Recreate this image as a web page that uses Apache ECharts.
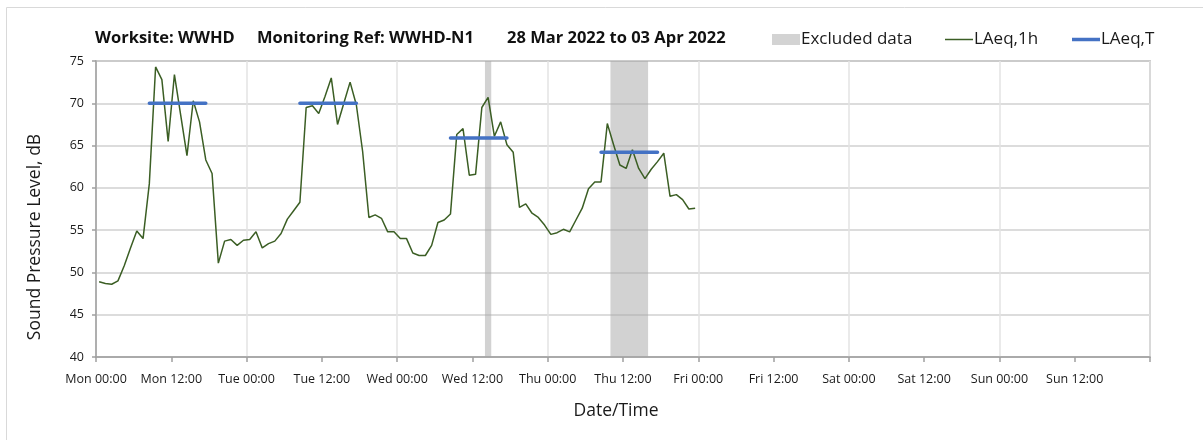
<!DOCTYPE html>
<html>
<head>
<meta charset="utf-8">
<title>WWHD-N1 noise monitoring</title>
<script src="https://cdn.jsdelivr.net/npm/echarts@6/dist/echarts.min.js"></script>
<style>
    html, body { margin: 0; padding: 0; background: #fff; }
    #chart0 { width: 1203px; height: 440px; }
</style>
</head>
<body>
<div id="chart0"></div>
<script>
// LAeq,1h - one value per hour, first hour is Mon 00:00-01:00 (plotted mid-hour)
var firstHour = 0.5;
var laeq1h = [
    48.9, 48.7, 48.6, 49.0, 50.8, 52.9, 54.9, 54.0, 60.5, 74.3, 72.8, 65.5,
    73.4, 68.6, 63.8, 70.3, 67.8, 63.3, 61.7, 51.1, 53.7, 53.9, 53.2, 53.8,
    53.9, 54.8, 52.9, 53.4, 53.7, 54.6, 56.3, 57.3, 58.3, 69.5, 69.7, 68.8,
    70.8, 73.0, 67.5, 70.0, 72.5, 69.8, 64.3, 56.5, 56.8, 56.4, 54.8, 54.8,
    54.0, 54.0, 52.3, 52.0, 52.0, 53.2, 55.9, 56.2, 56.9, 66.3, 67.0, 61.5,
    61.6, 69.5, 70.7, 66.1, 67.8, 65.1, 64.2, 57.7, 58.1, 57.0, 56.5, 55.6,
    54.5, 54.7, 55.1, 54.8, 56.2, 57.6, 59.9, 60.7, 60.7, 67.6, 65.1, 62.7,
    62.3, 64.5, 62.3, 61.1, 62.2, 63.1, 64.1, 59.0, 59.2, 58.6, 57.5, 57.6
];

// LAeq,T over each daytime period (hours from Mon 00:00)
var periodStart = [8.5, 32.5, 56.5, 80.5];
var periodEnd = [17.5, 41.5, 65.5, 89.5];
var laeqT = [70.0, 70.0, 65.9, 64.2];

// excluded data periods (hours from Mon 00:00)
var excludedFrom = [62, 82];
var excludedTo = [63, 88];

var tickLabels = [
    'Mon 00:00', 'Mon 12:00', 'Tue 00:00', 'Tue 12:00', 'Wed 00:00', 'Wed 12:00',
    'Thu 00:00', 'Thu 12:00', 'Fri 00:00', 'Fri 12:00', 'Sat 00:00', 'Sat 12:00',
    'Sun 00:00', 'Sun 12:00', ''
];

var font = 'Open Sans';
var textColor = '#1a1a1a';
var green = '#3b5e24';
var blue = '#4472c4';

var renderChart = function () {
    var chart0 = echarts.init(document.getElementById('chart0'));

    var hourly = laeq1h.map(function (v, i) {
        return [firstHour + i, v];
    });

    var tData = [];
    for (var i = 0; i < laeqT.length; i++) {
        tData.push([periodStart[i], laeqT[i]]);
        tData.push([periodEnd[i], laeqT[i]]);
        tData.push([periodEnd[i], '-']);
    }

    var bands = [];
    for (var j = 0; j < excludedFrom.length; j++) {
        bands.push([{ xAxis: excludedFrom[j] }, { xAxis: excludedTo[j] }]);
    }

    var titleStyle = { fontFamily: font, fontSize: 16.5, fontWeight: 'bold', color: '#111' };
    var legendText = { fontFamily: font, fontSize: 17, color: textColor, padding: [0, 0, 0, -4] };
    var axisTitle = { fontFamily: font, fontSize: 17.5, fill: textColor };

    var option = {
        animation: false,
        textStyle: { fontFamily: font },
        graphic: [
            {
                type: 'rect',
                shape: { x: 6.5, y: 7.5, width: 1220, height: 460 },
                style: { fill: null, stroke: '#d9d9d9', lineWidth: 1 },
                silent: true
            },
            {
                type: 'text', x: 35, y: 237, rotation: Math.PI / 2,
                style: Object.assign({ text: 'Sound Pressure Level, dB', align: 'center', verticalAlign: 'middle' }, axisTitle),
                silent: true
            },
            {
                type: 'text', x: 616, y: 411,
                style: Object.assign({ text: 'Date/Time', align: 'center', verticalAlign: 'middle' }, axisTitle),
                silent: true
            }
        ],
        title: [
            { text: 'Worksite: WWHD', left: 95, top: 30, padding: 0, textStyle: titleStyle },
            { text: 'Monitoring Ref: WWHD-N1', left: 257, top: 30, padding: 0, textStyle: titleStyle },
            { text: '28 Mar 2022 to 03 Apr 2022', left: 507, top: 30, padding: 0, textStyle: titleStyle }
        ],
        legend: [
            {
                left: 772, top: 31, padding: 0, itemWidth: 28, itemHeight: 11,
                textStyle: legendText,
                data: [{ name: 'Excluded data', icon: 'rect', itemStyle: { color: '#d3d3d3', opacity: 1 } }]
            },
            {
                left: 945, top: 31, padding: 0, itemWidth: 28, itemHeight: 1.5,
                textStyle: legendText,
                data: [{ name: 'LAeq,1h', icon: 'rect', itemStyle: { color: green } }]
            },
            {
                left: 1072, top: 31, padding: 0, itemWidth: 28, itemHeight: 3.5,
                textStyle: legendText,
                data: [{ name: 'LAeq,T', icon: 'rect', itemStyle: { color: blue } }]
            }
        ],
        grid: {
            left: 96, right: 53, top: 61, bottom: 83,
            show: true, borderColor: '#a6a6a6', borderWidth: 1.5
        },
        xAxis: [
            {
                type: 'value', min: 0, max: 168, interval: 12,
                axisLine: { lineStyle: { color: '#a0a0a0', width: 1.5 } },
                axisTick: { length: 5, lineStyle: { color: '#a0a0a0', width: 1.5 } },
                axisLabel: {
                    margin: 16, fontFamily: font, fontSize: 12.5, color: textColor,
                    formatter: function (v) { return tickLabels[Math.round(v / 12)]; }
                },
                splitLine: { show: false }
            },
            {
                type: 'value', min: 0, max: 168, interval: 24,
                axisLine: { show: false }, axisTick: { show: false }, axisLabel: { show: false },
                splitLine: { show: true, lineStyle: { color: '#e3e3e3', width: 1.5 } }
            }
        ],
        yAxis: {
            type: 'value', min: 40, max: 75, interval: 5,
            axisLine: { show: true, lineStyle: { color: '#a0a0a0', width: 1.5 } },
            axisTick: { show: true, length: 4, lineStyle: { color: '#a0a0a0', width: 1.5 } },
            axisLabel: { margin: 12, fontFamily: font, fontSize: 12.5, color: textColor },
            splitLine: { lineStyle: { color: '#d0d0d0', width: 1.5 } }
        },
        series: [
            {
                name: 'Excluded data',
                type: 'line',
                data: [],
                symbol: 'none',
                itemStyle: { color: '#d3d3d3' },
                markArea: {
                    silent: true,
                    itemStyle: { color: '#a6a6a6', opacity: 0.5 },
                    data: bands
                }
            },
            {
                name: 'LAeq,1h',
                type: 'line',
                data: hourly,
                symbol: 'none',
                color: green,
                lineStyle: { width: 1.5, color: green },
                z: 3
            },
            {
                name: 'LAeq,T',
                type: 'line',
                data: tData,
                symbol: 'none',
                connectNulls: false,
                color: blue,
                lineStyle: { width: 3.5, color: blue, cap: 'round' },
                z: 4
            }
        ]
    };
    chart0.setOption(option);
};

renderChart();
</script>
</body>
</html>
